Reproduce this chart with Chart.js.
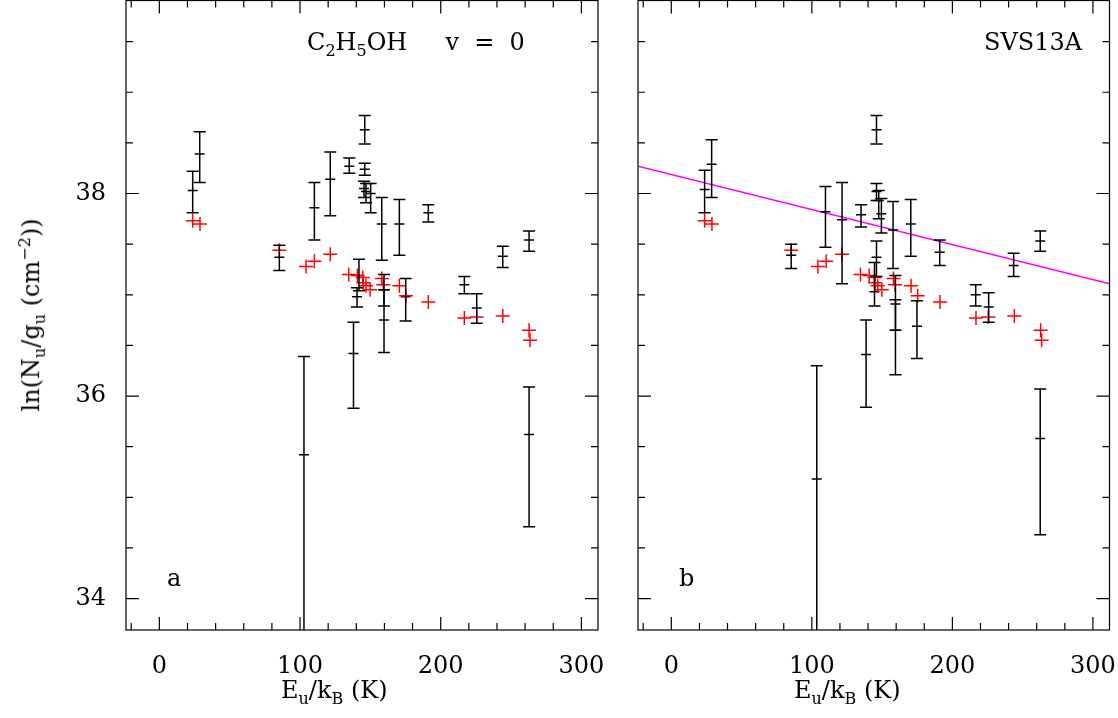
<!DOCTYPE html>
<html><head><meta charset="utf-8">
<script src="https://cdn.jsdelivr.net/npm/chart.js@4"></script>
<style>
body{margin:0;background:#fff;width:1118px;height:718px;overflow:hidden;font-family:"DejaVu Serif",serif;position:relative;}
canvas{position:absolute;left:0;top:-8px;}
.t{position:absolute;font-size:24px;color:#000;white-space:nowrap;}
.t sub{font-size:16px;} .t sup{font-size:16px;}
</style></head><body>
<canvas id="ca" width="1118" height="726"></canvas>
<canvas id="cb" width="1118" height="726"></canvas>
<div class="t" style="left:307px;top:28px">C<sub>2</sub>H<sub>5</sub>OH &nbsp;&nbsp;&nbsp;&nbsp;v &nbsp;= &nbsp;0</div>
<div class="t" style="left:984px;top:28px">SVS13A</div>
<div class="t" style="left:167px;top:564px">a</div>
<div class="t" style="left:679px;top:564px">b</div>
<div class="t" style="left:281px;top:676px">E<sub>u</sub>/k<sub>B</sub> (K)</div>
<div class="t" style="left:794px;top:676px">E<sub>u</sub>/k<sub>B</sub> (K)</div>
<div class="t" style="left:32px;top:315px;transform:translate(-50%,-50%) rotate(-90deg)">ln(N<sub>u</sub>/g<sub>u</sub> (cm<sup>−2</sup>))</div>
<script>
// Panel a: observed points with error bars
const aE  = [23.7,28.7,85.3,110.2,121.5,135.0,146.0,146.0,145.5,146.9,150.2,158.1,170.6,191.2,141.9,140.5,159.7,159.7,175.1,216.8,225.6,244.1,262.8,138.0,102.8,262.8];
const aLn = [38.03,38.39,37.37,37.86,38.14,38.27,38.63,38.24,38.05,38.02,38.00,37.70,37.70,37.81,37.19,36.98,37.05,36.75,36.98,37.10,36.87,37.38,37.54,36.42,35.42,35.62];
const aLo = [37.81,38.11,37.24,37.54,37.78,38.20,38.49,38.18,37.96,37.91,37.81,37.34,37.39,37.72,37.04,36.88,36.89,36.43,36.74,37.01,36.72,37.27,37.43,35.88,33.00,34.71];
const aHi = [38.22,38.61,37.49,38.11,38.41,38.35,38.77,38.30,38.12,38.10,38.10,37.96,37.94,37.89,37.35,37.07,37.20,37.05,37.16,37.18,37.01,37.48,37.63,36.73,36.39,36.09];
// Panel b: corrected points with error bars
const bE  = [23.7,28.7,85.3,109.7,121.5,135.0,138.6,146.0,146.0,147.6,149.5,157.8,170.4,191.0,146.0,144.6,159.5,159.5,174.8,216.6,225.8,243.6,262.5,262.5,103.5];
const bLn = [38.04,38.29,37.39,37.82,37.74,37.79,36.41,38.63,38.02,37.93,37.80,37.64,37.70,37.42,37.37,37.03,36.91,36.65,36.69,37.00,36.88,37.29,37.53,35.58,35.18];
const bLo = [37.81,37.96,37.26,37.47,37.11,37.67,35.89,38.49,37.93,37.75,37.61,37.26,37.38,37.29,37.18,36.89,36.65,36.21,36.37,36.89,36.73,37.18,37.43,34.63,33.00];
const bHi = [38.23,38.53,37.50,38.07,38.11,37.89,36.75,38.77,38.10,38.03,37.95,37.92,37.94,37.54,37.53,37.32,37.19,36.95,36.94,37.10,37.02,37.41,37.63,36.07,36.30];
// Model (red) points, both panels
const rE  = [23.7,28.9,85.3,104.3,110.2,121.5,134.6,140.8,144.6,145.0,146.9,149.8,158.1,159.2,170.6,175.3,191.2,216.8,225.6,244.1,262.8,263.5];
const rLn = [37.73,37.70,37.44,37.28,37.33,37.40,37.20,37.19,37.17,37.12,37.09,37.05,37.16,37.10,37.09,36.99,36.93,36.77,36.78,36.79,36.65,36.55];
// Fit line in panel b
const fitE  = [-23.7,311.8];
const fitLn = [38.27,37.11];
const yTicks = [34,36,38];
const xTicks = [0,100,200,300];

const XMIN=-23.7,XMAX=311.8,YMIN=33.69,YMAX=39.906;

function pts(xs,ys){return xs.map((x,i)=>({x,y:ys[i]}));}
function noPad(s){s.paddingTop=0;s.paddingBottom=0;s.paddingLeft=0;s.paddingRight=0;}

const framePlugin={id:'frame',afterDatasetsDraw(c,args,opt){
  const ctx=c.ctx,a=c.chartArea,xs=c.scales.x,ys=c.scales.y;
  ctx.save();
  ctx.beginPath();ctx.rect(a.left,a.top,a.right-a.left,a.bottom-a.top);ctx.clip();
  const eb=opt.eb;
  ctx.strokeStyle='#000';ctx.lineWidth=1.5;
  eb.E.forEach((e,i)=>{
    const x=xs.getPixelForValue(e),yl=ys.getPixelForValue(eb.lo[i]),yh=ys.getPixelForValue(eb.hi[i]);
    ctx.beginPath();ctx.moveTo(x,yl);ctx.lineTo(x,yh);
    ctx.moveTo(x-6,yl);ctx.lineTo(x+6,yl);ctx.moveTo(x-6,yh);ctx.lineTo(x+6,yh);ctx.stroke();
  });
  ctx.restore();
  ctx.save();
  ctx.strokeStyle='#000';ctx.lineWidth=1.2;
  ctx.strokeRect(a.left,a.top,a.right-a.left,a.bottom-a.top);
  ctx.beginPath();
  for(let v=-20;v<=XMAX;v+=20){
    const x=xs.getPixelForValue(v),L=(v%100===0)?13:7;
    ctx.moveTo(x,a.bottom);ctx.lineTo(x,a.bottom-L);ctx.moveTo(x,a.top);ctx.lineTo(x,a.top+L);
  }
  for(let v=34;v<=YMAX;v+=0.5){
    const y=ys.getPixelForValue(v),L=(v%2===0)?13:7;
    ctx.moveTo(a.left,y);ctx.lineTo(a.left+L,y);ctx.moveTo(a.right,y);ctx.lineTo(a.right-L,y);
  }
  ctx.stroke();ctx.restore();
}};

function make(id,E,Ln,Lo,Hi,showY,padL,padR,withFit){
  const ds=[
    {data:pts(rE,rLn),pointStyle:'cross',radius:7,borderColor:'#ff0000',borderWidth:1.5,showLine:false},
    {data:pts(E,Ln),pointStyle:'line',radius:5,borderColor:'#000',borderWidth:1.5,showLine:false}
  ];
  if(withFit) ds.push({type:'line',data:pts(fitE,fitLn),borderColor:'#ff00ff',borderWidth:1.5,pointRadius:0,fill:false});
  return new Chart(document.getElementById(id),{type:'scatter',data:{datasets:ds},
    options:{responsive:false,animation:false,events:[],
      layout:{padding:{left:padL,right:padR,top:0,bottom:0}},
      plugins:{legend:{display:false},tooltip:{enabled:false},frame:{eb:{E,lo:Lo,hi:Hi}}},
      scales:{
        x:{type:'linear',min:XMIN,max:XMAX,grid:{display:false},border:{display:false},
          afterBuildTicks:s=>{s.ticks=xTicks.map(v=>({value:v}));},
          afterFit:s=>{s.height=88;noPad(s);},
          ticks:{color:'#000',padding:14,maxRotation:0,font:{family:'DejaVu Serif',size:24}}},
        y:{type:'linear',min:YMIN,max:YMAX,grid:{display:false},border:{display:false},
          afterBuildTicks:s=>{s.ticks=yTicks.map(v=>({value:v}));},
          afterFit:s=>{s.width=showY?126:0;noPad(s);},
          ticks:{display:showY,color:'#000',padding:12,font:{family:'DejaVu Serif',size:24}}}
      }},plugins:[framePlugin]});
}
make('ca',aE,aLn,aLo,aHi,true,0,520,false);
make('cb',bE,bLn,bLo,bHi,false,638,8,true);
</script></body></html>
